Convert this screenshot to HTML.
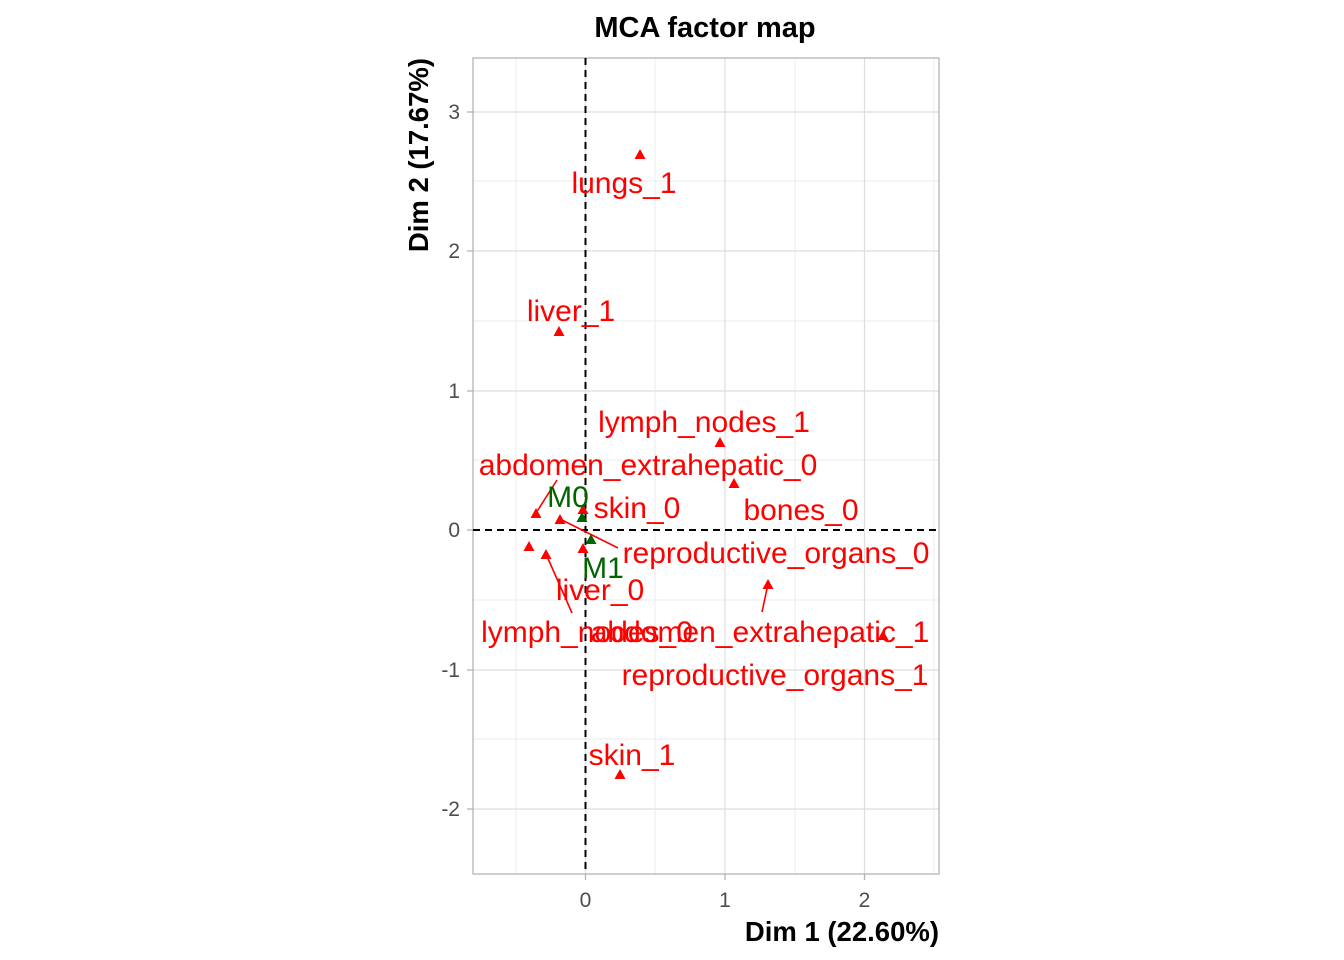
<!DOCTYPE html>
<html><head><meta charset="utf-8"><style>html,body{margin:0;padding:0;background:#fff}svg{display:block}</style></head>
<body>
<svg width="1344" height="960" viewBox="0 0 1344 960" xmlns="http://www.w3.org/2000/svg" font-family="Liberation Sans, Arial, sans-serif">
<rect width="1344" height="960" fill="#fff"/>
<g stroke="#ebebeb" stroke-width="1">
<line x1="516" y1="58" x2="516" y2="874"/><line x1="655" y1="58" x2="655" y2="874"/><line x1="795" y1="58" x2="795" y2="874"/><line x1="934" y1="58" x2="934" y2="874"/>
<line x1="473" y1="181" x2="939" y2="181"/><line x1="473" y1="321" x2="939" y2="321"/><line x1="473" y1="460" x2="939" y2="460"/><line x1="473" y1="600" x2="939" y2="600"/><line x1="473" y1="739" x2="939" y2="739"/>
</g>
<g stroke="#dedede" stroke-width="1.2">
<line x1="585.5" y1="58" x2="585.5" y2="874"/><line x1="725" y1="58" x2="725" y2="874"/><line x1="864.5" y1="58" x2="864.5" y2="874"/>
<line x1="473" y1="112" x2="939" y2="112"/><line x1="473" y1="251" x2="939" y2="251"/><line x1="473" y1="391" x2="939" y2="391"/><line x1="473" y1="670" x2="939" y2="670"/><line x1="473" y1="809" x2="939" y2="809"/>
</g>
<rect x="473" y="58" width="466" height="816" fill="none" stroke="#b3b3b3" stroke-width="1.3"/>
<line x1="585.5" y1="58" x2="585.5" y2="874" stroke="#000" stroke-width="2" stroke-dasharray="7,5"/>
<line x1="473" y1="530" x2="939" y2="530" stroke="#000" stroke-width="2" stroke-dasharray="7,5"/>
<g stroke="#b3b3b3" stroke-width="1.3">
<line x1="585.5" y1="874" x2="585.5" y2="880"/><line x1="725" y1="874" x2="725" y2="880"/><line x1="864.5" y1="874" x2="864.5" y2="880"/>
<line x1="467" y1="112" x2="473" y2="112"/><line x1="467" y1="251" x2="473" y2="251"/><line x1="467" y1="391" x2="473" y2="391"/><line x1="467" y1="530" x2="473" y2="530"/><line x1="467" y1="670" x2="473" y2="670"/><line x1="467" y1="809" x2="473" y2="809"/>
</g>
<g fill="#4d4d4d" font-size="21" text-anchor="middle">
<text x="585.5" y="907">0</text><text x="725" y="907">1</text><text x="864.5" y="907">2</text>
</g>
<g fill="#4d4d4d" font-size="21" text-anchor="end">
<text x="460" y="119">3</text><text x="460" y="258">2</text><text x="460" y="398">1</text><text x="460" y="537">0</text><text x="460" y="677">-1</text><text x="460" y="816">-2</text>
</g>
<text x="705" y="37" font-size="29" font-weight="bold" text-anchor="middle">MCA factor map</text>
<text x="939" y="941" font-size="27.5" font-weight="bold" text-anchor="end">Dim 1 (22.60%)</text>
<text transform="translate(428,58) rotate(-90)" font-size="27.5" font-weight="bold" text-anchor="end">Dim 2 (17.67%)</text>
<g stroke="#f00" stroke-width="1.6">
<line x1="536" y1="513" x2="557" y2="480"/><line x1="560" y1="519" x2="618" y2="548"/><line x1="546" y1="554" x2="572" y2="613"/><line x1="768" y1="584" x2="762" y2="612"/>
</g>
<g fill="#f00">
<path d="M640,149 l5.5,10 h-11z"/><path d="M559,326 l5.5,10 h-11z"/><path d="M720,437 l5.5,10 h-11z"/><path d="M734,478 l5.5,10 h-11z"/>
<path d="M536,508 l5.5,10 h-11z"/><path d="M560,514 l5.5,10 h-11z"/><path d="M583,504 l5.5,10 h-11z"/>
<path d="M529,541 l5.5,10 h-11z"/><path d="M546,549 l5.5,10 h-11z"/><path d="M583,543 l5.5,10 h-11z"/>
<path d="M768,579 l5.5,10 h-11z"/><path d="M883,630 l5.5,10 h-11z"/><path d="M620,769 l5.5,10 h-11z"/>
</g>
<g fill="#006400"><path d="M582,512 l5.5,10 h-11z"/><path d="M591,534 l5.5,10 h-11z"/></g>
<g fill="#f00" font-size="30" text-anchor="middle">
<text x="624" y="193">lungs_1</text><text x="571" y="321">liver_1</text><text x="704" y="432">lymph_nodes_1</text>
<text x="648" y="475">abdomen_extrahepatic_0</text><text x="637" y="518">skin_0</text><text x="801" y="520">bones_0</text>
<text x="776" y="563">reproductive_organs_0</text><text x="600" y="600">liver_0</text><text x="587" y="642">lymph_nodes_0</text>
<text x="760" y="642">abdomen_extrahepatic_1</text><text x="775" y="685">reproductive_organs_1</text><text x="632" y="765">skin_1</text>
</g>
<g fill="#006400" font-size="30" text-anchor="middle"><text x="568" y="507">M0</text><text x="603" y="578">M1</text></g>
</svg>
</body></html>
